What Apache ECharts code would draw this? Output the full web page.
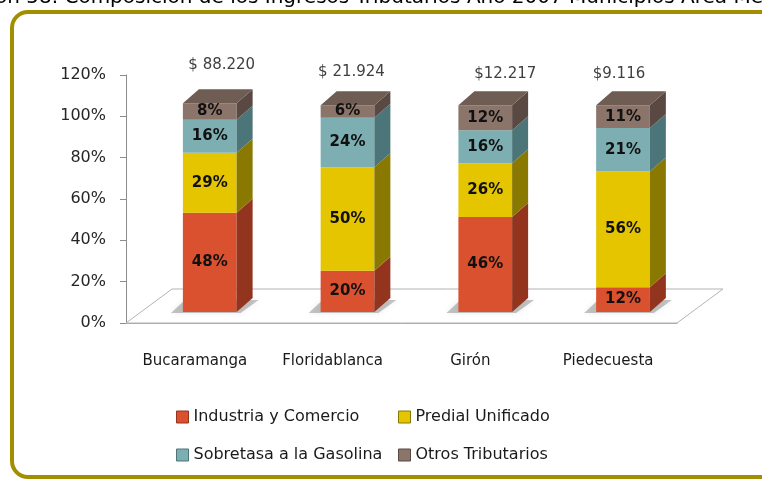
<!DOCTYPE html>
<html>
<head>
<meta charset="utf-8">
<script src="https://cdn.jsdelivr.net/npm/echarts@6/dist/echarts.min.js"></script>
<style>
    body {
        margin: 0px;
        padding: 0px;
        background: #fff;
    }
    #chart {
        width: 762px;
        height: 479px;
    }
</style>
</head>
<body>
<div id="chart"></div>
<script>
    // datos (% de cada fuente sobre el total tributario)
    var municipios = ['Bucaramanga', 'Floridablanca', 'Girón', 'Piedecuesta'];
    var industria = [48, 20, 46, 12];
    var predial = [29, 50, 26, 56];
    var sobretasa = [16, 24, 16, 21];
    var otros = [8, 6, 12, 11];
    var totales = ['$ 88.220', '$ 21.924', '$12.217', '$9.116'];
    var nombres = ['Industria y Comercio', 'Predial Unificado', 'Sobretasa a la Gasolina', 'Otros Tributarios'];

    var colores = [
        { front: '#d9512f', side: '#93341f', top: '#b8462a' },
        { front: '#e4c500', side: '#8a7900', top: '#c2a800' },
        { front: '#7caeb2', side: '#4b7579', top: '#6a979b' },
        { front: '#8b756a', side: '#5a4942', top: '#6f5c53' }
    ];
    // desplazamiento manual de las etiquetas de total (como en el original)
    var totalShift = [[4, -24], [-4, -19], [12, -17], [-12, -17]];

    var font = '"DejaVu Sans"';
    var chart = echarts.init(document.getElementById('chart'));

    // apilado manual
    var valores = [industria, predial, sobretasa, otros];
    var bases = municipios.map(function () { return 0; });
    var stacked = valores.map(function (arr) {
        return arr.map(function (v, i) {
            var b = bases[i];
            bases[i] += v;
            return [i, b, b + v];
        });
    });

    var DX = 16, DY = -14;        // profundidad de la barra
    var FX = 46, FY = -34;        // profundidad del piso

    function makeRender(s) {
        return function (params, api) {
            var cat = api.value(0), base = api.value(1), top = api.value(2);
            var p0 = api.coord([cat, base]);
            var p1 = api.coord([cat, top]);
            var band = api.size([1, 0])[0];
            var w = band * 0.39;
            var L = p0[0] - band * 0.087, R = L + w;
            var yb = p0[1] - 11, yt = p1[1] - 11;
            var c = colores[s];
            var children = [];

            if (s === 0 && params.dataIndex === 0) {
                var a = api.coord([0, 0]);
                var b = api.coord([municipios.length - 1, 0]);
                var x0 = a[0] - band / 2, x1 = b[0] + band / 2, y0 = a[1];
                children.push({
                    type: 'polygon',
                    z2: -10,
                    shape: { points: [[x0, y0], [x0 + FX, y0 + FY], [x1 + FX, y0 + FY], [x1, y0]] },
                    style: { fill: '#fff', stroke: '#b3b3b3', lineWidth: 1 }
                });
            }
            if (s === 0) {
                // sombra bajo la barra
                children.push({
                    type: 'polygon',
                    z2: -5,
                    shape: { points: [[L - 12, yb + 1], [R + 4, yb + 1], [R + DX + 6, yb + DY + 2], [L + 2, yb + DY + 2]] },
                    style: { fill: 'rgba(0,0,0,0.22)', shadowBlur: 6, shadowColor: 'rgba(0,0,0,0.35)' }
                });
            }
            children.push({
                type: 'rect',
                shape: { x: L, y: yt, width: w, height: yb - yt },
                style: { fill: c.front }
            });
            children.push({
                type: 'polygon',
                shape: { points: [[R, yb], [R + DX, yb + DY], [R + DX, yt + DY], [R, yt]] },
                style: { fill: c.side }
            });
            if (s === valores.length - 1) {
                var sh = totalShift[params.dataIndex];
                children.push({
                    type: 'polygon',
                    shape: { points: [[L, yt], [L + DX, yt + DY], [R + DX, yt + DY], [R, yt]] },
                    style: { fill: c.top }
                });
                children.push({
                    type: 'text',
                    style: {
                        text: totales[params.dataIndex],
                        x: (L + R + DX) / 2 + sh[0],
                        y: yt + DY + sh[1],
                        align: 'center',
                        verticalAlign: 'middle',
                        fill: '#404040',
                        font: '15px ' + font
                    }
                });
            }
            children.push({
                type: 'text',
                style: {
                    text: (top - base) + '%',
                    x: (L + R) / 2,
                    y: (yb + yt) / 2,
                    align: 'center',
                    verticalAlign: 'middle',
                    fill: '#111',
                    font: 'bold 15px ' + font
                }
            });
            return { type: 'group', children: children };
        };
    }

    var series = valores.map(function (arr, s) {
        return {
            name: nombres[s],
            type: 'custom',
            renderItem: makeRender(s),
            itemStyle: { color: colores[s].front },
            encode: { x: 0, y: [1, 2] },
            data: stacked[s]
        };
    });

    var legends = nombres.map(function (n, i) {
        return {
            data: [{ name: n, itemStyle: { color: colores[i].front, borderColor: colores[i].side, borderWidth: 1 } }],
            left: i % 2 ? 398 : 176,
            top: i < 2 ? 409 : 447,
            padding: 0,
            icon: 'rect',
            itemWidth: 12,
            itemHeight: 12,
            selectedMode: false,
            textStyle: { fontFamily: font, fontSize: 16, color: '#1a1a1a' }
        };
    });

    chart.setOption({
        animation: false,
        graphic: [
            {
                type: 'text',
                left: -5,
                top: -12,
                style: {
                    text: 'ón 58. Composición de los Ingresos Tributarios Año 2007 Municipios Área Metropolitana',
                    fill: '#000',
                    font: '20px ' + font
                }
            },
            {
                type: 'rect',
                shape: { x: 12, y: 12, width: 790, height: 465, r: 16 },
                style: { fill: 'none', stroke: '#a38e00', lineWidth: 4 }
            }
        ],
        grid: { left: 126, right: 85, top: 75, bottom: 156 },
        legend: legends,
        xAxis: {
            type: 'category',
            data: municipios,
            axisLine: { lineStyle: { color: '#a6a6a6' } },
            axisTick: { length: 7, lineStyle: { color: '#8c8c8c' } },
            axisLabel: { margin: 31, fontFamily: font, fontSize: 15, color: '#1a1a1a' }
        },
        yAxis: {
            type: 'value',
            min: 0,
            max: 120,
            interval: 20,
            splitLine: { show: false },
            axisLine: { show: true, lineStyle: { color: '#8c8c8c' } },
            axisTick: { show: true, length: 6, lineStyle: { color: '#8c8c8c' } },
            axisLabel: { formatter: '{value}%', margin: 20, fontFamily: font, fontSize: 16, color: '#262626' }
        },
        series: series
    });
</script>
</body>
</html>
